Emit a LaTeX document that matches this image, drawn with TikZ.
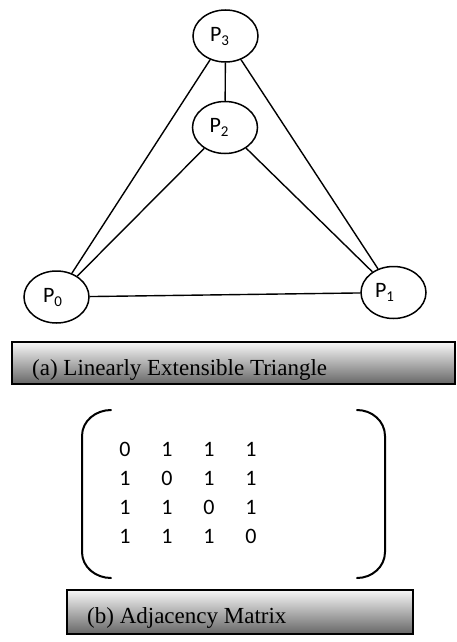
\documentclass[tikz,border=0pt]{standalone}
\usepackage{fontspec}
\setmainfont{Liberation Serif}
\newfontfamily\calib{Carlito}
\usetikzlibrary{shapes.geometric,matrix}

\tikzset{
  vertex/.style={ellipse, draw=black, line width=1.5pt, inner sep=0pt,
    minimum width=65pt, minimum height=52pt, font=\calib\fontsize{22}{26}\selectfont},
  edge/.style={line width=1.4pt, draw=black},
  capbox/.style={draw=black, line width=1.6pt, top color=black!3, bottom color=black!60},
  captext/.style={anchor=base west, inner sep=0pt, font=\fontsize{23}{27}\selectfont},
  bracket/.style={line width=2pt, draw=black, line cap=round},
}

% vertex label: letter with a subscript, nudged left of the ellipse centre
\newcommand{\plabel}[2]{P\raisebox{-4pt}{\fontsize{15}{18}\selectfont #1}\hspace*{#2}}

\begin{document}
\begin{tikzpicture}[x=1pt, y=-1pt]
  \useasboundingbox (0,0) rectangle (457,642);

  % graph vertices
  \node[vertex] (P3) at (225.5,36) {\plabel{3}{12pt}};
  \node[vertex] (P2) at (225,127.5) {\plabel{2}{12pt}};
  \node[vertex] (P0) at (56.5,297) {\plabel{0}{8pt}};
  \node[vertex] (P1) at (393.5,292.5) {\plabel{1}{18pt}};

  % edges
  \draw[edge] (P3) -- (P2);
  \draw[edge] (P3) -- (P0);
  \draw[edge] (P3) -- (P1);
  \draw[edge] (P2) -- (P0);
  \draw[edge] (P2) -- (P1);
  \draw[edge] (P0) -- (P1);

  % caption (a)
  \path[capbox] (12,342) rectangle (455,384);
  \begin{scope}
    \clip (12,342) rectangle (455,381);
    \node[captext] (capA) at (32,375) {(a) Linearly Extensible Triangle};
  \end{scope}

  % adjacency matrix
  \matrix (adj) [matrix of nodes, inner sep=0pt, column sep=0pt, row sep=0pt,
    nodes={anchor=center, minimum width=42pt, minimum height=29pt, inner sep=0pt,
      font=\calib\fontsize{22}{26}\selectfont}] at (188,493) {
    0 & 1 & 1 & 1 \\
    1 & 0 & 1 & 1 \\
    1 & 1 & 0 & 1 \\
    1 & 1 & 1 & 0 \\
  };
  \draw[bracket] (111,410) to[out=180,in=90] (82,436) -- (82,552) to[out=-90,in=180] (111,578);
  \draw[bracket] (357,410) to[out=0,in=90] (385,436) -- (385,552) to[out=-90,in=0] (357,578);

  % caption (b)
  \path[capbox] (67,590) rectangle (413,634);
  \begin{scope}
    \clip (67,590) rectangle (413,629);
    \node[captext] (capB) at (87,623) {(b) Adjacency Matrix};
  \end{scope}
\end{tikzpicture}
\end{document}
